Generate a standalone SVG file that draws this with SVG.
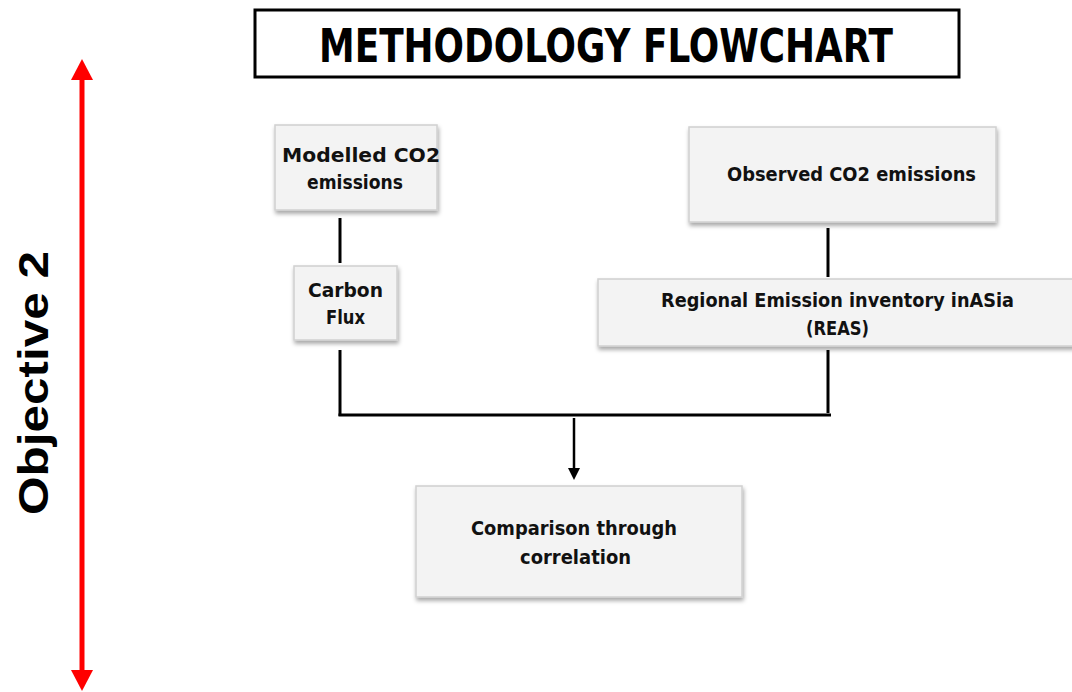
<svg xmlns="http://www.w3.org/2000/svg" width="1072" height="692" viewBox="0 0 1072 692">
  <style>
    .box { fill: #f3f3f3; stroke: #d0d0d0; stroke-width: 1.5; filter: url(#sh); }
    .lbl { font-family: "DejaVu Sans", "Liberation Sans", sans-serif; font-weight: bold; font-size: 19px; fill: #111; text-anchor: middle; }
    .ln { stroke: #000; stroke-width: 3; fill: none; }
  </style>
  <defs>
    <filter id="sh" x="-10%" y="-10%" width="125%" height="130%">
      <feDropShadow dx="1" dy="3" stdDeviation="2" flood-color="#000" flood-opacity="0.35"/>
    </filter>
    <marker id="ah" markerWidth="12" markerHeight="12" refX="5" refY="5" orient="auto" markerUnits="userSpaceOnUse" viewBox="0 0 10 10">
      <path d="M0,0 L10,5 L0,10 Z" fill="#000"/>
    </marker>
  </defs>
  <rect width="1072" height="692" fill="#fff"/>

  <g id="title">
    <rect x="255" y="10" width="704" height="67" fill="#fff" stroke="#000" stroke-width="3"/>
    <text x="606" y="62" font-family="DejaVu Sans Condensed, DejaVu Sans, sans-serif" font-weight="bold" font-size="46" text-anchor="middle" textLength="574" lengthAdjust="spacingAndGlyphs" fill="#000">METHODOLOGY FLOWCHART</text>
  </g>

  <g id="objective">
    <line x1="82" y1="80" x2="82" y2="670" stroke="#ff0000" stroke-width="5"/>
    <path d="M82,59 L93,80 L71,80 Z" fill="#ff0000"/>
    <path d="M82,691 L93,670 L71,670 Z" fill="#ff0000"/>
    <text transform="translate(48,383) rotate(-90)" font-family="Liberation Sans, Arial, sans-serif" font-weight="bold" font-size="43" text-anchor="middle" textLength="264" lengthAdjust="spacingAndGlyphs" fill="#000">Objective 2</text>
  </g>

  <g id="connectors">
    <line class="ln" x1="340" y1="218" x2="340" y2="263"/>
    <line class="ln" x1="828" y1="228" x2="828" y2="277"/>
    <line class="ln" x1="340" y1="350" x2="340" y2="416"/>
    <line class="ln" x1="828" y1="350" x2="828" y2="413"/>
    <line class="ln" x1="338.5" y1="415" x2="831" y2="415"/>
    <line x1="574" y1="418" x2="574" y2="474" stroke="#000" stroke-width="2.5" marker-end="url(#ah)"/>
  </g>

  <g id="modelled">
    <rect class="box" x="275" y="125" width="162" height="85"/>
    <text class="lbl" x="361" y="162" textLength="158" lengthAdjust="spacingAndGlyphs">Modelled CO2</text>
    <text class="lbl" x="355" y="189" textLength="96" lengthAdjust="spacingAndGlyphs">emissions</text>
  </g>

  <g id="carbon">
    <rect class="box" x="294" y="266" width="103" height="74"/>
    <text class="lbl" x="345.5" y="297" textLength="75" lengthAdjust="spacingAndGlyphs">Carbon</text>
    <text class="lbl" x="345.5" y="324" textLength="39" lengthAdjust="spacingAndGlyphs">Flux</text>
  </g>

  <g id="observed">
    <rect class="box" x="689" y="127" width="307" height="95"/>
    <text class="lbl" x="851.5" y="181" textLength="249" lengthAdjust="spacingAndGlyphs">Observed CO2 emissions</text>
  </g>

  <g id="reas">
    <rect class="box" x="598" y="279" width="480" height="67"/>
    <text class="lbl" x="837.5" y="307" textLength="353" lengthAdjust="spacingAndGlyphs">Regional Emission inventory inASia</text>
    <text class="lbl" x="837.5" y="335" textLength="63" lengthAdjust="spacingAndGlyphs">(REAS)</text>
  </g>

  <g id="comparison">
    <rect class="box" x="416" y="486" width="326" height="111"/>
    <text class="lbl" x="574" y="535" textLength="206" lengthAdjust="spacingAndGlyphs">Comparison through</text>
    <text class="lbl" x="575.5" y="564" textLength="111" lengthAdjust="spacingAndGlyphs">correlation</text>
  </g>
</svg>
